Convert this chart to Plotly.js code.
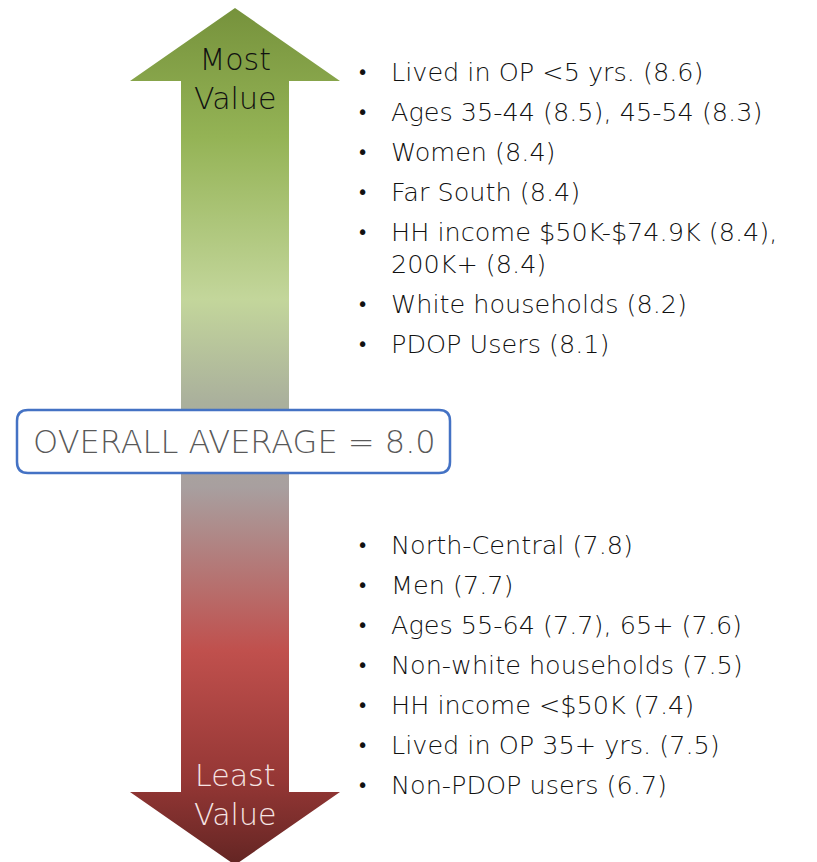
<!DOCTYPE html>
<html>
<head>
<meta charset="utf-8">
<script src="https://cdn.plot.ly/plotly-3.0.1.min.js"></script>
<style>html,body{margin:0;padding:0;background:#fff;}#chart{width:817px;height:862px;}</style>
</head>
<body>
<div id="chart"></div>
<script>
// ---- data ----
const topLabels = ["Lived in OP <5 yrs.", "Ages 35-44", "Women", "Far South", "HH income $50K-$74.9K", "White households", "PDOP Users"];
const topValues = ["8.6", "8.5", "8.4", "8.4", "8.4", "8.2", "8.1"];
const topExtra = ["", ", 45-54 (8.3)", "", "", ",", "", ""];
const topSecondLine = ["", "", "", "", "200K+ (8.4)", "", ""];
const bottomLabels = ["North-Central", "Men", "Ages 55-64", "Non-white households", "HH income <$50K", "Lived in OP 35+ yrs.", "Non-PDOP users"];
const bottomValues = ["7.8", "7.7", "7.7", "7.5", "7.4", "7.5", "6.7"];
const bottomExtra = ["", "", ", 65+ (7.6)", "", "", "", ""];
const bottomSecondLine = ["", "", "", "", "", "", ""];
const overallLabel = "OVERALL AVERAGE";
const overallValue = "8.0";
const topEndLabel = ["Most", "Value"];
const bottomEndLabel = ["Least", "Value"];

// ---- layout geometry ----
const W = 817, H = 862;
const cx = 235, shaftL = 181, shaftR = 289, headL = 130, headR = 340;
const tipTop = 8, headTopBase = 81, headBotBase = 792, tipBot = 865;

const arrowX = [cx, headR, shaftR, shaftR, headR, cx, headL, shaftL, shaftL, headL, cx];
const arrowY = [tipTop, headTopBase, headTopBase, headBotBase, headBotBase, tipBot, headBotBase, headBotBase, headTopBase, headTopBase, tipTop];

// colorscale runs from the bottom of the page (0) to the top (1)
const traces = [{
  type: 'scatter', mode: 'lines', x: arrowX, y: arrowY,
  fill: 'toself', line: {width: 0, color: 'rgba(0,0,0,0)'},
  fillgradient: {
    type: 'vertical',
    colorscale: [
      [0.00, '#632523'],
      [0.10, '#953735'],
      [0.25, '#c0504d'],
      [0.44, '#a89f9f'],
      [0.54, '#aab09c'],
      [0.66, '#c3d69b'],
      [0.85, '#94b355'],
      [1.00, '#76923c']
    ]
  },
  hoverinfo: 'skip', showlegend: false
}];

const FAM = "'DejaVu Sans', sans-serif";
const textFont = {family: FAM, size: 25.5, color: '#111111', weight: 200};
const annotations = [];
function addList(labels, values, extras, second, startY) {
  let y = startY;
  for (let i = 0; i < labels.length; i++) {
    annotations.push({x: 362, y: y, xref: 'x', yref: 'y', text: '•', showarrow: false,
      xanchor: 'center', yanchor: 'middle', font: {family: FAM, size: 19, color: '#111111'}});
    annotations.push({x: 389, y: y, xref: 'x', yref: 'y', text: labels[i] + ' (' + values[i] + ')' + extras[i],
      showarrow: false, xanchor: 'left', yanchor: 'middle', align: 'left', font: textFont});
    if (second[i]) {
      annotations.push({x: 389, y: y + 32, xref: 'x', yref: 'y', text: second[i],
        showarrow: false, xanchor: 'left', yanchor: 'middle', align: 'left', font: textFont});
      y += 72;
    } else {
      y += 40;
    }
  }
}
addList(topLabels, topValues, topExtra, topSecondLine, 72);
addList(bottomLabels, bottomValues, bottomExtra, bottomSecondLine, 545);

const endFont = (c) => ({family: FAM, size: 30, color: c, weight: 200});
annotations.push({x: cx, y: 79, xref: 'x', yref: 'y', text: topEndLabel.join('<br>'), showarrow: false,
  xanchor: 'center', yanchor: 'middle', align: 'center', font: endFont('#111111')});
annotations.push({x: cx, y: 795, xref: 'x', yref: 'y', text: bottomEndLabel.join('<br>'), showarrow: false,
  xanchor: 'center', yanchor: 'middle', align: 'center', font: endFont('#f6e4e3')});

annotations.push({x: 234, y: 442, xref: 'x', yref: 'y', text: overallLabel + ' = ' + overallValue, showarrow: false,
  xanchor: 'center', yanchor: 'middle', font: {family: FAM, size: 32, color: '#595959', weight: 200}});

const bx0 = 17, bx1 = 450, by0 = 410, by1 = 473, r = 11;
const boxPath = `M${bx0+r},${by0} L${bx1-r},${by0} Q${bx1},${by0} ${bx1},${by0+r} L${bx1},${by1-r} Q${bx1},${by1} ${bx1-r},${by1} L${bx0+r},${by1} Q${bx0},${by1} ${bx0},${by1-r} L${bx0},${by0+r} Q${bx0},${by0} ${bx0+r},${by0} Z`;

const layout = {
  width: W, height: H,
  margin: {l: 0, r: 0, t: 0, b: 0},
  paper_bgcolor: '#ffffff', plot_bgcolor: '#ffffff',
  xaxis: {range: [0, W], visible: false, fixedrange: true},
  yaxis: {range: [H, 0], visible: false, fixedrange: true},
  showlegend: false,
  shapes: [{type: 'path', path: boxPath, xref: 'x', yref: 'y', fillcolor: '#ffffff',
    line: {color: '#4472c4', width: 2.5}, layer: 'above'}],
  annotations: annotations
};

Plotly.newPlot('chart', traces, layout, {staticPlot: true, displayModeBar: false});
</script>
</body>
</html>
